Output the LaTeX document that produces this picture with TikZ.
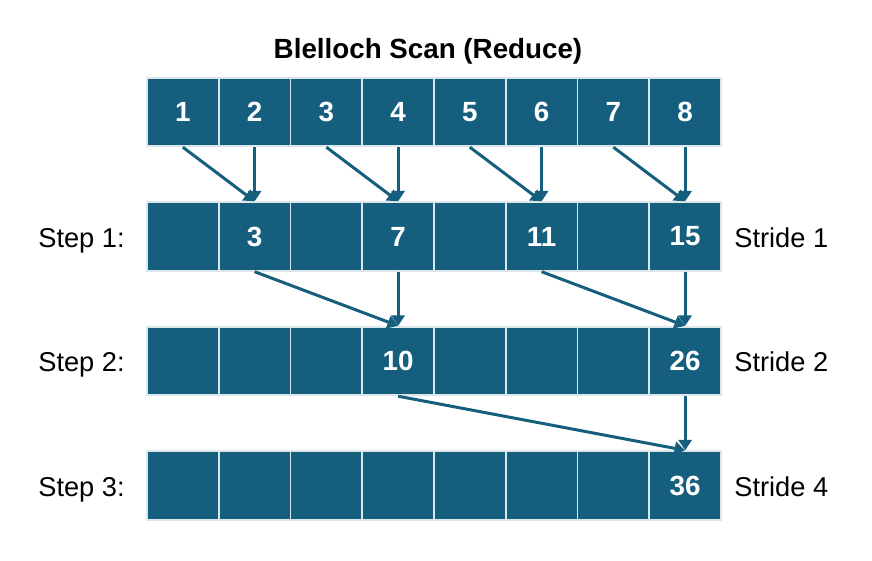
\documentclass[tikz,border=0pt]{standalone}
\usepackage{fontspec}
\setmainfont{Liberation Sans}
\usetikzlibrary{arrows.meta}
\definecolor{cellblue}{RGB}{22,94,126}

\begin{document}
\begin{tikzpicture}[x=0.02cm, y=-0.02cm,
    cell/.style={draw=white!85!cellblue, line width=1.1pt, fill=cellblue, text=white,
        minimum width=1.435cm, minimum height=1.37cm, inner sep=0pt,
        font=\fontsize{15.8}{19}\selectfont\bfseries},
    lbl/.style={inner sep=0pt, font=\fontsize{15.5}{18}\selectfont},
    arr/.style={draw=cellblue, line width=1.7pt, -{Triangle[width=7.5pt,length=6pt]}}]
    \useasboundingbox (0,0) rectangle (872,561);

    % one row of eight cells: row index, centre y, values
    \def\cellrow#1#2#3{%
        \foreach \v [count=\i] in {#3}
            \node[cell] (r#1c\i) at ({147+71.75*(\i-0.5)}, #2) {\v};
    }

    \node[font=\fontsize{15.8}{19}\selectfont\bfseries, anchor=base] (title) at (428,58) {Blelloch Scan (Reduce)};

    % input
    \cellrow{0}{112}{1,2,3,4,5,6,7,8}
    % step 1, stride 1
    \cellrow{1}{236.5}{{},3,{},7,{},11,{},15}
    % step 2, stride 2
    \cellrow{2}{361}{{},{},{},10,{},{},{},26}
    % step 3, stride 4
    \cellrow{3}{485.5}{{},{},{},{},{},{},{},36}

    \node[lbl, anchor=base east] (step1) at (125,247) {Step 1:};
    \node[lbl, anchor=base east] (step2) at (125,371.5) {Step 2:};
    \node[lbl, anchor=base east] (step3) at (125,496) {Step 3:};
    \node[lbl, anchor=base west] (stride1) at (734,247) {Stride 1};
    \node[lbl, anchor=base west] (stride2) at (734,371.5) {Stride 2};
    \node[lbl, anchor=base west] (stride4) at (734,496) {Stride 4};

    % step 1: neighbours
    \foreach \a/\b in {1/2,3/4,5/6,7/8} {
        \draw[arr] (r0c\a.south) -- (r1c\b.north);
        \draw[arr] (r0c\b.south) -- (r1c\b.north);
    }
    % step 2: two apart
    \foreach \a/\b in {2/4,6/8} {
        \draw[arr] (r1c\a.south) -- (r2c\b.north);
        \draw[arr] (r1c\b.south) -- (r2c\b.north);
    }
    % step 3: four apart
    \draw[arr] (r2c4.south) -- (r3c8.north);
    \draw[arr] (r2c8.south) -- (r3c8.north);
\end{tikzpicture}
\end{document}
